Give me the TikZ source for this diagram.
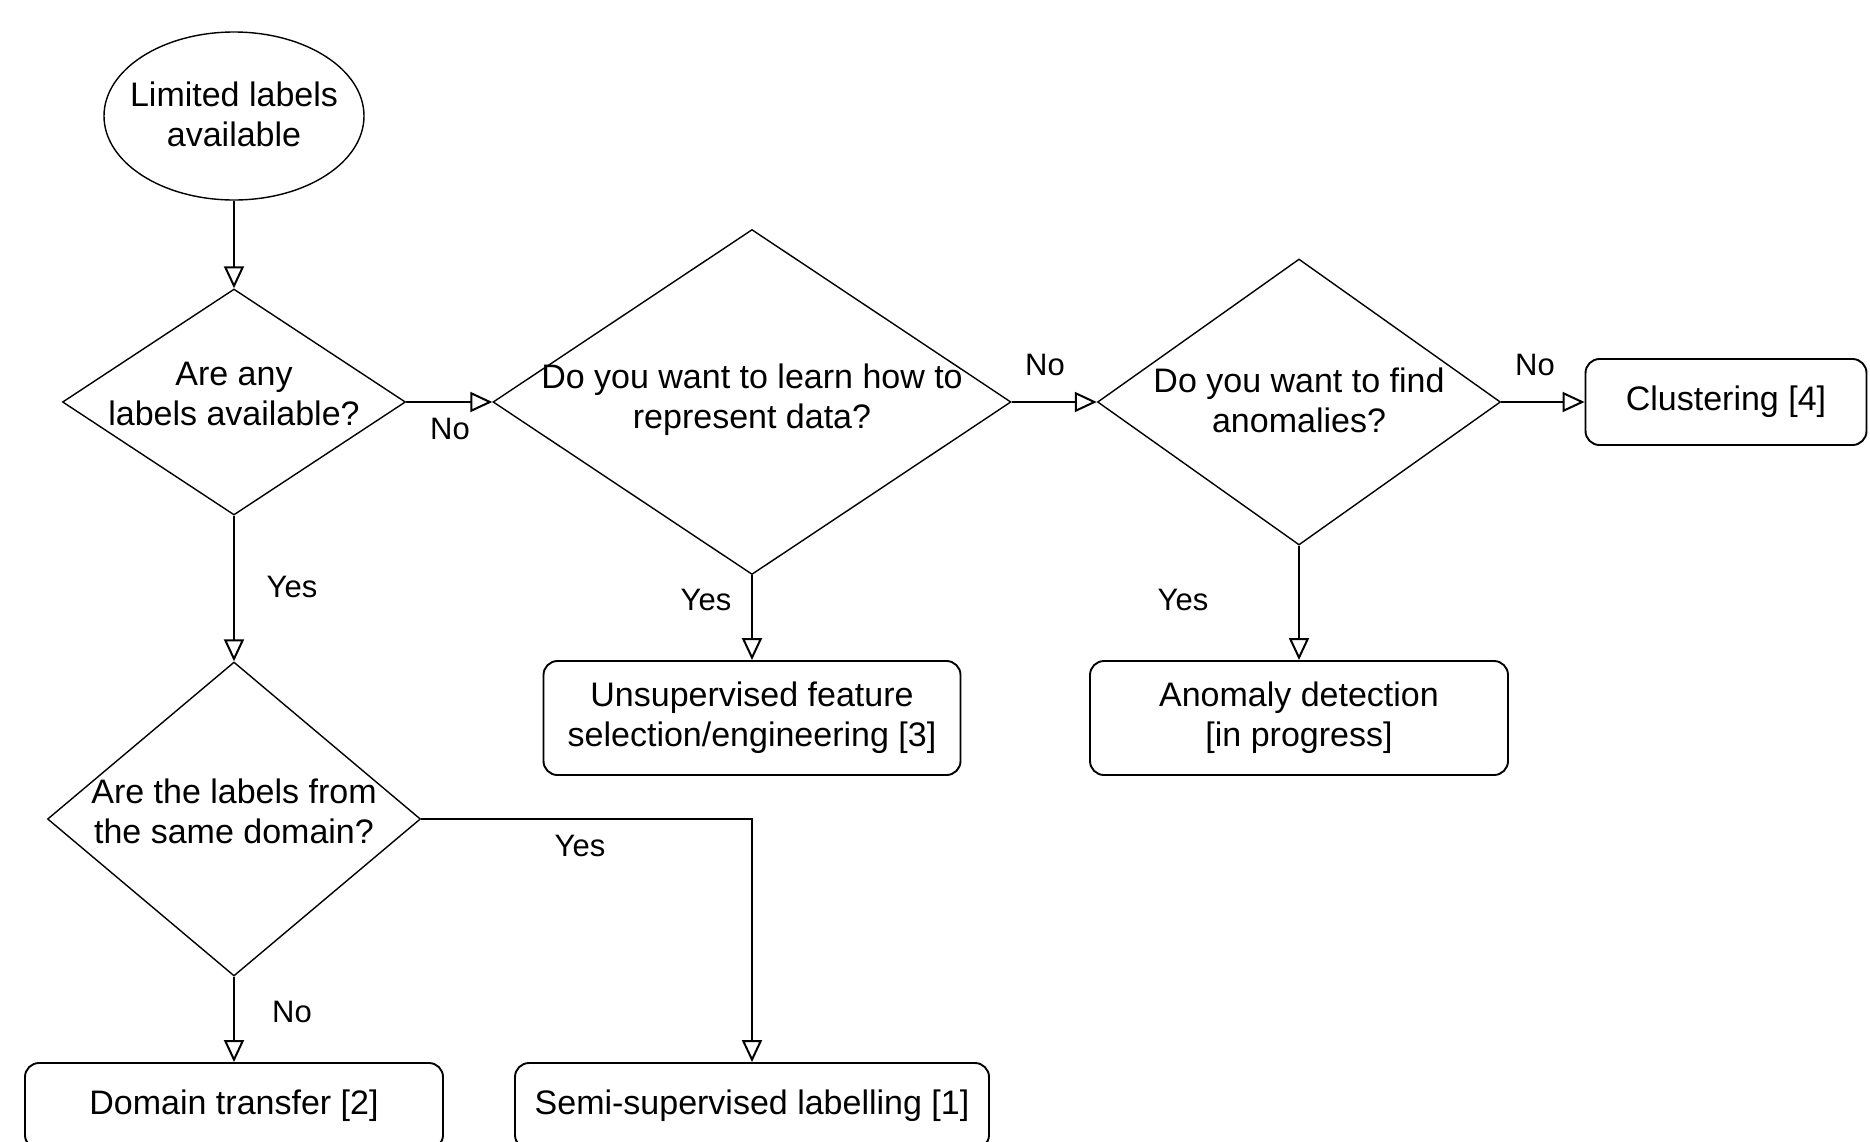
\documentclass[tikz,border=0pt]{standalone}
\usepackage{fontspec}
\setmainfont{Liberation Sans}
\usetikzlibrary{shapes.geometric,arrows.meta}
\tikzset{
  x=1pt, y=-1pt,
  txt/.style={font=\fontsize{34}{40}\selectfont, align=center, inner sep=0pt},
  lbl/.style={font=\fontsize{31}{36}\selectfont, inner sep=0pt},
  decision/.style={shape=diamond, draw, line width=1.4pt, minimum width=#1, inner sep=0pt},
  startnode/.style={shape=ellipse, draw, line width=1.4pt, minimum width=260pt, minimum height=168pt, inner sep=0pt},
  endbox/.style={draw, rounded corners=14pt, line width=1.9pt, txt},
  conn/.style={line width=2pt, -{Triangle[open, length=22pt, width=20pt, line width=2pt]}}
}
\begin{document}
\begin{tikzpicture}
\clip (0,0) rectangle (1870,1141);
\fill[white] (0,0) rectangle (1870,1141);

% start
\node[startnode] (start) at (234,116) {};
\node[txt] (starttxt) at (234,114) {Limited labels\\available};

% decisions
\node[decision=343pt, minimum height=226pt] (d1) at (234,402) {};
\node[txt] (d1txt) at (234,394) {Are any\\labels available?};

\node[decision=518pt, minimum height=345pt] (d2) at (752,402) {};
\node[txt] (d2txt) at (752,400) {Do you want to learn how to\\represent data?};

\node[decision=403pt, minimum height=286pt] (d3) at (1299,402) {};
\node[txt] (d3txt) at (1299,400) {Do you want to find\\anomalies?};

\node[decision=373pt, minimum height=314pt] (d4) at (234,819) {};
\node[txt] (d4txt) at (234,811) {Are the labels from\\the same domain?};

% end boxes
\node[endbox, minimum width=281pt, minimum height=86pt] (clust) at (1726,402) {Clustering [4]};
\node[endbox, minimum width=417pt, minimum height=114pt] (unsup) at (752,718) {Unsupervised feature\\selection/engineering [3]};
\node[endbox, minimum width=418pt, minimum height=114pt] (anom) at (1299,718) {Anomaly detection\\{}[in progress]};
\node[endbox, minimum width=418pt, minimum height=86pt] (domain) at (234,1106) {Domain transfer [2]};
\node[endbox, minimum width=474pt, minimum height=86pt] (semi) at (752,1106) {Semi-supervised labelling [1]};

% connectors
\draw[conn] (start.south) -- (d1.north);
\draw[conn] (d1.east) -- (d2.west);
\draw[conn] (d2.east) -- (d3.west);
\draw[conn] (d3.east) -- (clust.west);
\draw[conn] (d2.south) -- (unsup.north);
\draw[conn] (d3.south) -- (anom.north);
\draw[conn] (d1.south) -- (d4.north);
\draw[conn] (d4.south) -- (domain.north);
\draw[conn] (d4.east) -| (semi.north);

% labels
\node[lbl] (l1) at (450,429) {No};
\node[lbl] (l2) at (292,587) {Yes};
\node[lbl] (l3) at (1045,365) {No};
\node[lbl] (l4) at (1535,365) {No};
\node[lbl] (l5) at (706,600) {Yes};
\node[lbl] (l6) at (1183,600) {Yes};
\node[lbl] (l7) at (580,846) {Yes};
\node[lbl] (l8) at (292,1012) {No};
\end{tikzpicture}
\end{document}
